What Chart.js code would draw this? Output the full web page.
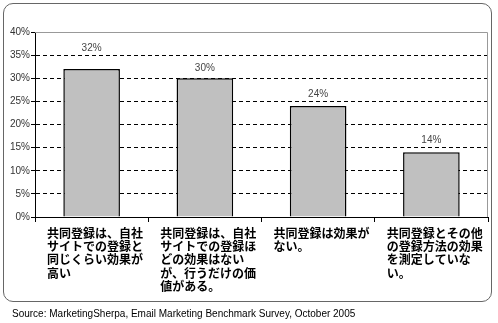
<!DOCTYPE html>
<html>
<head>
<meta charset="utf-8">
<script src="https://cdn.jsdelivr.net/npm/chart.js@4"></script>
<style>
  html, body { margin: 0; padding: 0; background: #fff; }
  #wrap { position: relative; width: 498px; height: 323px; }
  #frame {
    position: absolute; left: 3px; top: 3px; width: 487px; height: 297px;
    border: 1.5px solid #666; border-radius: 10px;
  }
  #chart { position: absolute; left: 0; top: 0; }
  #source {
    position: absolute; left: 12px; top: 308px;
    font: 10px "Liberation Sans", Arial, sans-serif; color: #000;
  }
</style>
</head>
<body>
<div id="wrap">
  <div id="frame"></div>
  <canvas id="chart" width="498" height="323"></canvas>
  <div id="source">Source: MarketingSherpa, Email Marketing Benchmark Survey, October 2005</div>
</div>
<script>
/*  Data  */
const categories = [
    ["共同登録は、自社", "サイトでの登録と", "同じくらい効果が", "高い"],
    ["共同登録は、自社", "サイトでの登録ほ", "どの効果はない", "が、行うだけの価", "値がある。"],
    ["共同登録は効果が", "ない。"],
    ["共同登録とその他", "の登録方法の効果", "を測定していな", "い。"]
];
const values = [32, 30, 24, 14];
const yTicks = [0, 5, 10, 15, 20, 25, 30, 35, 40];

const cjkFont = '"Noto Sans CJK JP", "Noto Sans CJK SC", sans-serif';

/*  plot border + category labels under the axis  */
const extras = {
    id: "extras",
    afterDraw(chart) {
        const { ctx, chartArea: a, scales: { x } } = chart;
        ctx.save();
        // grey frame round the plot area (top + right)
        ctx.strokeStyle = "#999";
        ctx.lineWidth = 1;
        ctx.beginPath();
        ctx.moveTo(a.left, a.top + 0.5);
        ctx.lineTo(a.right - 0.5, a.top + 0.5);
        ctx.lineTo(a.right - 0.5, a.bottom);
        ctx.stroke();

        // left-aligned, multi-line category labels
        const step = (a.right - a.left) / categories.length;
        ctx.fillStyle = "#000";
        ctx.font = "bold 12px " + cjkFont;
        ctx.textAlign = "left";
        ctx.textBaseline = "middle";
        categories.forEach((lines, i) => {
            const left = x.getPixelForValue(i) - step / 2 + 12;
            lines.forEach((line, j) => {
                ctx.fillText(line, left, a.bottom + 16 + j * 13.4);
            });
        });
        ctx.restore();
    }
};

/*  value labels above the bars  */
const valueLabels = {
    id: "valueLabels",
    afterDatasetsDraw(chart) {
        const { ctx, scales: { y } } = chart;
        const meta = chart.getDatasetMeta(0);
        ctx.save();
        ctx.fillStyle = "#444";
        ctx.font = '10px "Liberation Sans", Arial, sans-serif';
        ctx.textAlign = "center";
        ctx.textBaseline = "middle";
        meta.data.forEach((bar, i) => {
            let ty = bar.y - 10;
            // keep clear of the dashed grid lines
            yTicks.forEach(t => {
                const gp = y.getPixelForValue(t);
                if (Math.abs(ty - gp) < 6) ty = gp - 7;
            });
            ctx.fillText(values[i] + "%", bar.x, ty);
        });
        ctx.restore();
    }
};

new Chart(document.getElementById("chart"), {
    type: "bar",
    data: {
        labels: categories.map(c => c.join("")),
        datasets: [{
            data: values,
            backgroundColor: "#c0c0c0",
            borderColor: "#000",
            borderWidth: 1.5,
            categoryPercentage: 1,
            barPercentage: 0.5
        }]
    },
    options: {
        responsive: false,
        animation: false,
        layout: { padding: { left: 0, right: 10, top: 32, bottom: 0 } },
        plugins: {
            legend: { display: false },
            tooltip: { enabled: false }
        },
        scales: {
            x: {
                ticks: { display: false },
                grid: {
                    offset: true,
                    drawOnChartArea: false,
                    drawTicks: true,
                    tickLength: 5,
                    tickColor: "#000"
                },
                border: { color: "#000", width: 1 },
                afterFit(scale) { scale.height = 106; }
            },
            y: {
                min: 0,
                max: 40,
                ticks: {
                    stepSize: 5,
                    padding: 1,
                    color: "#333",
                    font: { family: '"Liberation Sans", Arial, sans-serif', size: 10 },
                    callback: v => v + "%"
                },
                grid: {
                    color: ctx => (ctx.tick && ctx.tick.value > 0 && ctx.tick.value < 40) ? "#000" : "rgba(0,0,0,0)",
                    lineWidth: 1,
                    tickLength: 4,
                    tickColor: "#000",
                    tickBorderDash: []
                },
                border: { color: "#000", width: 1, dash: [4, 3] },
                afterFit(scale) { scale.width = 35; }
            }
        }
    },
    plugins: [extras, valueLabels]
});
</script>
</body>
</html>
